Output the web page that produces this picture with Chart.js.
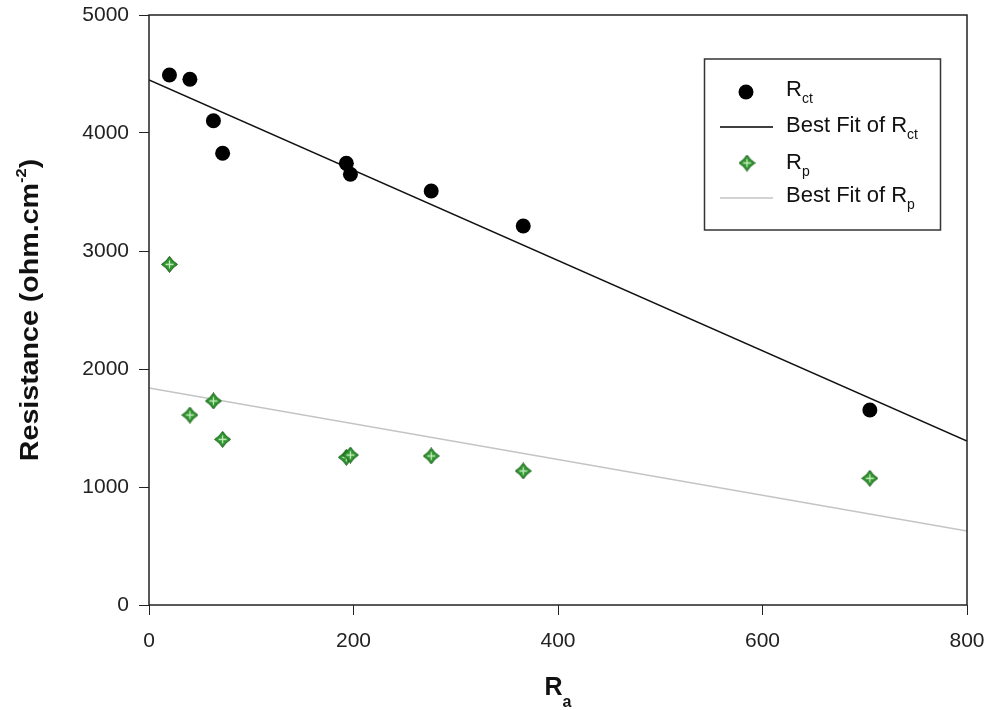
<!DOCTYPE html>
<html>
<head>
<meta charset="utf-8">
<script src="https://cdn.jsdelivr.net/npm/chart.js@4.4.1/dist/chart.umd.min.js"></script>
<style>
html, body { margin: 0; padding: 0; background: #fff; }
#wrap { width: 992px; height: 710px; }
</style>
</head>
<body>
<div id="wrap"><canvas id="chart" width="992" height="710"></canvas></div>
<script>
// values
const raValues = [20, 40, 63, 72, 193, 197, 276, 366, 705];
const rctValues = [4492, 4455, 4104, 3828, 3743, 3650, 3508, 3212, 1653];
const rpValues = [2887, 1610, 1729, 1404, 1252, 1271, 1263, 1136, 1074];
const fitX = [0, 800];
const rctFit = [4450, 1390];
const rpFit = [1840, 628];
const xTicks = [0, 200, 400, 600, 800];
const yTicks = [0, 1000, 2000, 3000, 4000, 5000];

const FONT = "Arial, 'Liberation Sans', sans-serif";

function toPoints(xs, ys) {
    return xs.map((x, i) => ({ x: x, y: ys[i] }));
}

// green diamond with light cross, used for Rp
function makeDiamond() {
    const c = document.createElement("canvas");
    c.width = 17;
    c.height = 17;
    const g = c.getContext("2d");
    const m = 8.5, r = 8;
    g.beginPath();
    g.moveTo(m, m - r);
    g.quadraticCurveTo(m + 3, m - 3, m + r, m);
    g.quadraticCurveTo(m + 3, m + 3, m, m + r);
    g.quadraticCurveTo(m - 3, m + 3, m - r, m);
    g.quadraticCurveTo(m - 3, m - 3, m, m - r);
    g.closePath();
    g.fillStyle = "#2e952e";
    g.fill();
    g.strokeStyle = "#1d5e1d";
    g.lineWidth = 1;
    g.stroke();
    g.strokeStyle = "#c9f0c0";
    g.lineWidth = 1.3;
    g.beginPath();
    g.moveTo(m, m - 4); g.lineTo(m, m + 4);
    g.moveTo(m - 4, m); g.lineTo(m + 4, m);
    g.stroke();
    return c;
}
const diamond = makeDiamond();

// text with sub/superscript pieces
function drawRich(ctx, parts, x, y) {
    let cx = x;
    parts.forEach(p => {
        ctx.font = (p.bold ? "bold " : "") + p.size + "px " + FONT;
        ctx.fillText(p.t, cx, y + (p.dy || 0));
        cx += ctx.measureText(p.t).width;
    });
}
function richWidth(ctx, parts) {
    let w = 0;
    parts.forEach(p => {
        ctx.font = (p.bold ? "bold " : "") + p.size + "px " + FONT;
        w += ctx.measureText(p.t).width;
    });
    return w;
}

const decorPlugin = {
    id: "decor",
    afterDraw(chart) {
        const ctx = chart.ctx;
        const a = chart.chartArea;
        ctx.save();
        // frame
        ctx.strokeStyle = "#222";
        ctx.lineWidth = 1.5;
        ctx.strokeRect(a.left, a.top, a.right - a.left, a.bottom - a.top);

        ctx.fillStyle = "#111";
        ctx.textAlign = "left";
        ctx.textBaseline = "alphabetic";

        // y title (slightly stretched like the original)
        const yParts = [
            { t: "Resistance (ohm.cm", size: 26, bold: true },
            { t: "-2", size: 15, bold: true, dy: -12 },
            { t: ")", size: 26, bold: true }
        ];
        ctx.save();
        ctx.translate(38, (a.top + a.bottom) / 2);
        ctx.rotate(-Math.PI / 2);
        ctx.scale(1.1, 1);
        drawRich(ctx, yParts, -richWidth(ctx, yParts) / 2, 0);
        ctx.restore();

        // x title
        const xParts = [
            { t: "R", size: 25, bold: true },
            { t: "a", size: 16, bold: true, dy: 12 }
        ];
        drawRich(ctx, xParts, (a.left + a.right) / 2 - richWidth(ctx, xParts) / 2, 695);

        // legend
        ctx.strokeStyle = "#333";
        ctx.lineWidth = 1.5;
        ctx.strokeRect(704.5, 59, 236, 171);

        ctx.fillStyle = "#000";
        ctx.beginPath();
        ctx.arc(746, 92, 7.5, 0, Math.PI * 2);
        ctx.fill();

        ctx.strokeStyle = "#000";
        ctx.lineWidth = 1.5;
        ctx.beginPath();
        ctx.moveTo(720, 127); ctx.lineTo(773, 127);
        ctx.stroke();

        ctx.drawImage(diamond, 747 - 8.5, 163 - 8.5);

        ctx.strokeStyle = "#c4c4c4";
        ctx.beginPath();
        ctx.moveTo(720, 198); ctx.lineTo(773, 198);
        ctx.stroke();

        ctx.fillStyle = "#111";
        drawRich(ctx, [{ t: "R", size: 22 }, { t: "ct", size: 14, dy: 7 }], 786, 96);
        drawRich(ctx, [{ t: "Best Fit of R", size: 22 }, { t: "ct", size: 14, dy: 7 }], 786, 132);
        drawRich(ctx, [{ t: "R", size: 22 }, { t: "p", size: 14, dy: 7 }], 786, 169);
        drawRich(ctx, [{ t: "Best Fit of R", size: 22 }, { t: "p", size: 14, dy: 7 }], 786, 202);
        ctx.restore();
    }
};

const ctx = document.getElementById("chart").getContext("2d");
new Chart(ctx, {
    type: "scatter",
    data: {
        datasets: [
            {
                label: "Rct",
                data: toPoints(raValues, rctValues),
                backgroundColor: "#000",
                borderColor: "#000",
                pointRadius: 7.5,
                borderWidth: 0,
                order: 0
            },
            {
                label: "Rp",
                data: toPoints(raValues, rpValues),
                pointStyle: diamond,
                order: 0
            },
            {
                label: "Best Fit of Rct",
                data: toPoints(fitX, rctFit),
                showLine: true,
                borderColor: "#111",
                borderWidth: 1.5,
                pointRadius: 0,
                order: 1
            },
            {
                label: "Best Fit of Rp",
                data: toPoints(fitX, rpFit),
                showLine: true,
                borderColor: "#c4c4c4",
                borderWidth: 1.5,
                pointRadius: 0,
                order: 1
            }
        ]
    },
    options: {
        responsive: false,
        animation: false,
        layout: { padding: { left: 0, right: 25, top: 15, bottom: 0 } },
        plugins: { legend: { display: false }, tooltip: { enabled: false } },
        scales: {
            x: {
                type: "linear",
                min: 0,
                max: 800,
                afterBuildTicks: s => { s.ticks = xTicks.map(v => ({ value: v })); },
                afterFit: s => { s.height = 105; s.paddingLeft = 0; s.paddingRight = 0; },
                grid: { drawOnChartArea: false, drawTicks: true, tickLength: 10, color: "#222", lineWidth: 1 },
                border: { display: false },
                ticks: { color: "#222", padding: 14, font: { family: FONT, size: 21 }, callback: v => String(v) }
            },
            y: {
                type: "linear",
                min: 0,
                max: 5000,
                afterBuildTicks: s => { s.ticks = yTicks.map(v => ({ value: v })); },
                afterFit: s => { s.width = 149; s.paddingTop = 0; s.paddingBottom = 0; },
                grid: { drawOnChartArea: false, drawTicks: true, tickLength: 10, color: "#222", lineWidth: 1 },
                border: { display: false },
                ticks: { color: "#222", padding: 10, font: { family: FONT, size: 21 }, callback: v => String(v) }
            }
        }
    },
    plugins: [decorPlugin]
});
</script>
</body>
</html>
